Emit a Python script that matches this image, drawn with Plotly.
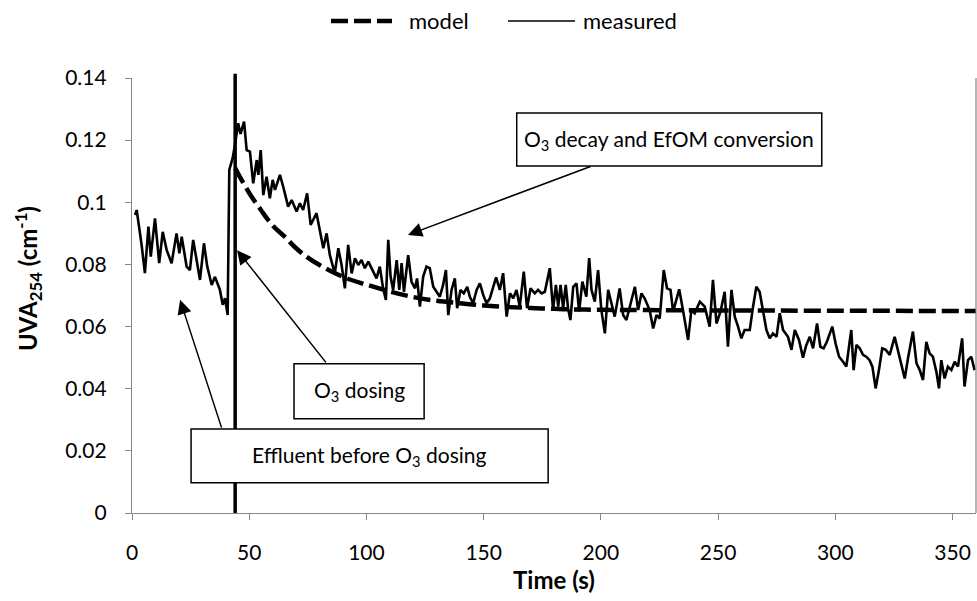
import plotly.graph_objects as go

# ---- data ----
time_measured = [1.3, 2.0, 4.1, 5.5, 7.0, 8.0, 9.8, 11.6, 13.1, 14.8, 16.9, 19.0, 20.2, 21.2, 23.3, 24.7,
                 26.1, 29.0, 30.7, 32.1, 34.0, 35.4, 37.5, 38.7, 39.7, 40.8, 41.5, 42.9, 43.8, 45.3, 46.3,
                 47.8, 48.9, 50.3, 51.7, 53.2, 53.9, 54.9, 56.0, 57.4, 58.8, 60.0, 61.0, 63.1, 64.5, 66.6,
                 68.1, 70.2, 71.6, 73.0, 74.7, 76.2, 78.7, 80.2, 81.6, 83.0, 84.4, 86.5, 88.0, 89.4, 90.8,
                 92.2, 93.7, 95.1, 96.5, 97.9, 99.3, 100.8, 102.9, 104.3, 105.7, 107.1, 108.3, 109.3, 110.3,
                 111.4, 112.9, 114.0, 115.0, 116.0, 117.8, 119.2, 120.7, 121.6, 122.8, 124.2, 125.6, 127.0,
                 128.5, 129.9, 131.3, 132.7, 133.9, 134.9, 136.3, 137.7, 138.7, 140.1, 141.5, 143.0, 144.1,
                 145.5, 147.0, 148.4, 149.8, 151.2, 152.6, 155.3, 156.9, 158.3, 159.8, 161.2, 162.6, 164.0,
                 165.4, 167.1, 168.5, 170.0, 171.8, 173.2, 174.7, 176.1, 178.2, 179.6, 180.8, 181.8, 182.8,
                 183.9, 185.0, 186.0, 187.0, 188.2, 189.6, 190.7, 192.1, 193.8, 195.0, 196.0, 197.4, 198.8,
                 200.2, 201.7, 203.1, 204.5, 205.9, 208.0, 209.5, 210.9, 212.3, 214.5, 215.9, 217.3, 218.7,
                 220.8, 222.3, 223.7, 225.1, 226.8, 228.2, 229.7, 230.8, 233.4, 235.0, 237.2, 238.6, 240.0,
                 242.2, 244.3, 246.4, 247.8, 249.3, 251.0, 252.8, 254.2, 255.7, 257.1, 258.5, 259.9, 261.3,
                 263.5, 264.9, 266.3, 267.7, 269.2, 270.6, 272.0, 273.4, 274.9, 276.3, 277.7, 279.8, 281.3,
                 282.7, 284.5, 286.2, 287.6, 289.1, 290.5, 292.2, 293.6, 295.0, 296.4, 298.7, 300.1, 301.6,
                 303.3, 304.7, 306.1, 306.8, 307.8, 309.0, 310.4, 311.8, 313.2, 314.6, 315.8, 317.2, 318.6,
                 320.0, 321.5, 323.2, 325.3, 326.7, 328.2, 329.6, 331.0, 333.1, 334.6, 336.0, 337.4, 338.8,
                 340.2, 341.6, 343.1, 344.2, 345.2, 346.6, 348.0, 349.5, 350.9, 352.3, 354.1, 355.1, 356.6,
                 358.0, 359.4]
uva_measured = [0.0959, 0.0975, 0.0863, 0.0772, 0.0922, 0.0825, 0.0948, 0.0804, 0.0905, 0.0846, 0.0804,
                0.0900, 0.0836, 0.0889, 0.0793, 0.0782, 0.0879, 0.0750, 0.0868, 0.0793, 0.0734, 0.0760,
                0.0718, 0.0670, 0.0691, 0.0637, 0.1104, 0.1141, 0.1180, 0.1254, 0.1220, 0.1260, 0.1168,
                0.1163, 0.1061, 0.1136, 0.1088, 0.1168, 0.1023, 0.1082, 0.1013, 0.1072, 0.1040, 0.1088,
                0.1050, 0.0986, 0.1007, 0.0970, 0.0997, 0.0975, 0.1029, 0.0927, 0.0965, 0.0911, 0.0852,
                0.0900, 0.0830, 0.0771, 0.0852, 0.0798, 0.0723, 0.0863, 0.0771, 0.0820, 0.0798, 0.0814,
                0.0788, 0.0809, 0.0777, 0.0755, 0.0793, 0.0723, 0.0686, 0.0879, 0.0761, 0.0718, 0.0814,
                0.0718, 0.0804, 0.0712, 0.0830, 0.0745, 0.0723, 0.0755, 0.0664, 0.0761, 0.0793, 0.0788,
                0.0728, 0.0712, 0.0696, 0.0734, 0.0782, 0.0637, 0.0718, 0.0755, 0.0659, 0.0718, 0.0707,
                0.0728, 0.0696, 0.0675, 0.0718, 0.0739, 0.0702, 0.0675, 0.0690, 0.0758, 0.0718, 0.0772,
                0.0632, 0.0707, 0.0691, 0.0718, 0.0664, 0.0777, 0.0659, 0.0723, 0.0707, 0.0718, 0.0707,
                0.0712, 0.0788, 0.0653, 0.0734, 0.0664, 0.0734, 0.0659, 0.0734, 0.0659, 0.0621, 0.0728,
                0.0739, 0.0648, 0.0745, 0.0696, 0.0820, 0.0718, 0.0680, 0.0782, 0.0653, 0.0578, 0.0718,
                0.0675, 0.0632, 0.0723, 0.0637, 0.0621, 0.0664, 0.0728, 0.0653, 0.0707, 0.0690, 0.0653,
                0.0594, 0.0637, 0.0626, 0.0782, 0.0723, 0.0718, 0.0648, 0.0720, 0.0653, 0.0557, 0.0653,
                0.0643, 0.0680, 0.0664, 0.0600, 0.0750, 0.0610, 0.0648, 0.0712, 0.0535, 0.0718, 0.0632,
                0.0600, 0.0562, 0.0589, 0.0589, 0.0664, 0.0728, 0.0712, 0.0643, 0.0589, 0.0562, 0.0578,
                0.0567, 0.0643, 0.0589, 0.0567, 0.0525, 0.0589, 0.0557, 0.0500, 0.0540, 0.0567, 0.0530,
                0.0610, 0.0535, 0.0530, 0.0551, 0.0600, 0.0546, 0.0503, 0.0487, 0.0471, 0.0551, 0.0589,
                0.0460, 0.0541, 0.0530, 0.0509, 0.0503, 0.0492, 0.0471, 0.0401, 0.0460, 0.0530, 0.0525,
                0.0509, 0.0567, 0.0525, 0.0482, 0.0433, 0.0498, 0.0584, 0.0482, 0.0460, 0.0428, 0.0551,
                0.0514, 0.0503, 0.0455, 0.0401, 0.0492, 0.0433, 0.0471, 0.0460, 0.0487, 0.0471, 0.0562,
                0.0407, 0.0492, 0.0503, 0.0460]

time_model = [44, 46, 50, 55, 60, 65, 70, 75, 80, 90, 100, 110, 120, 130, 140, 150, 160, 170, 180,
              190, 200, 220, 250, 300, 360]
uva_model = [0.111, 0.1082, 0.1030, 0.0975, 0.0925, 0.0890, 0.0852, 0.0822, 0.0798, 0.0760, 0.0735,
             0.0713, 0.0695, 0.0683, 0.0675, 0.0668, 0.0663, 0.0660, 0.0657, 0.0655, 0.0654, 0.0653,
             0.0652, 0.0651, 0.0650]

dosing_time = 44
x_ticks = [0, 50, 100, 150, 200, 250, 300, 350]
y_ticks = [0, 0.02, 0.04, 0.06, 0.08, 0.1, 0.12, 0.14]
y_ticktext = ["0", "0.02", "0.04", "0.06", "0.08", "0.1", "0.12", "0.14"]

FONT = "Lato"
FS = 21
TITLE_FS = 24
AXC = "#868686"
MODEL_DASH = "17px,6px"

# plot-area geometry helpers (pixels -> paper coords) for non-data decorations
L, R, T, B = 132, 976, 78, 513
def px(xp):
    return (xp - L) / (R - L)
def py(yp):
    return (B - yp) / (B - T)

fig = go.Figure()
fig.add_trace(go.Scatter(x=time_measured, y=uva_measured, mode="lines", name="measured",
                         line=dict(color="black", width=2.6), showlegend=False))
fig.add_trace(go.Scatter(x=time_model, y=uva_model, mode="lines", name="model",
                         line=dict(color="black", width=4.5, dash=MODEL_DASH, shape="spline"),
                         showlegend=False))

# vertical dosing line
fig.add_shape(type="line", xref="x", yref="paper", x0=dosing_time, x1=dosing_time, y0=0, y1=1.01,
              line=dict(color="black", width=3.5), layer="above")
# right border
fig.add_shape(type="line", xref="paper", yref="paper", x0=1, x1=1, y0=0, y1=1,
              line=dict(color=AXC, width=1.2), layer="above")

boxes = [
    (164.1, 294.2, 0.1117, 0.1287, "O<sub>3</sub> decay and EfOM conversion"),
    (69.1, 124.6, 0.0303, 0.0480, "O<sub>3</sub> dosing"),
    (25.2, 177.5, 0.0097, 0.0270, "Effluent before O<sub>3</sub> dosing"),
]
for x0, x1, y0, y1, txt in boxes:
    fig.add_shape(type="rect", xref="x", yref="y", x0=x0, x1=x1, y0=y0, y1=y1,
                  line=dict(color="black", width=1.5), fillcolor="white", layer="above")
    fig.add_annotation(x=(x0 + x1) / 2, y=(y0 + y1) / 2, xref="x", yref="y", text=txt,
                       showarrow=False, xanchor="center", yanchor="middle",
                       font=dict(family=FONT, size=FS, color="black"))

arrows = [
    (196.2, 0.1117, 117.7, 0.0895),
    (83.2, 0.0480, 44.8, 0.0846),
    (38.4, 0.0270, 20.5, 0.0686),
]
for tx, ty, hx, hy in arrows:
    fig.add_annotation(x=hx, y=hy, ax=tx, ay=ty, xref="x", yref="y", axref="x", ayref="y",
                       text="", showarrow=True, arrowhead=2, arrowsize=1.9, arrowwidth=1.5,
                       arrowcolor="black")

# axis titles
fig.add_annotation(xref="paper", yref="paper", x=px(28), y=py(279), xanchor="center",
                   yanchor="middle", text="<b>UVA<sub>254</sub> (cm<sup>-1</sup>)</b>",
                   textangle=-90, showarrow=False,
                   font=dict(family=FONT, size=TITLE_FS, color="black"))
fig.add_annotation(xref="paper", yref="paper", x=px(554), y=py(579), xanchor="center",
                   yanchor="middle", text="<b>Time (s)</b>", showarrow=False,
                   font=dict(family=FONT, size=TITLE_FS, color="black"))

# legend (drawn manually to match sample lengths)
fig.add_shape(type="line", xref="paper", yref="paper", x0=px(331), x1=px(392), y0=py(21), y1=py(21),
              line=dict(color="black", width=4.5, dash=MODEL_DASH))
fig.add_annotation(xref="paper", yref="paper", x=px(407), y=py(20), xanchor="left", yanchor="middle",
                   text="model", showarrow=False, font=dict(family=FONT, size=22, color="black"))
fig.add_shape(type="line", xref="paper", yref="paper", x0=px(508), x1=px(575), y0=py(21), y1=py(21),
              line=dict(color="black", width=1.6))
fig.add_annotation(xref="paper", yref="paper", x=px(581), y=py(20), xanchor="left", yanchor="middle",
                   text="measured", showarrow=False, font=dict(family=FONT, size=22, color="black"))

fig.update_xaxes(range=[0, 360], tickvals=x_ticks, showgrid=False, zeroline=False,
                 showline=True, linecolor=AXC, linewidth=1.2, ticks="outside", tickcolor=AXC,
                 ticklen=6, tickwidth=1.2, ticklabelstandoff=15,
                 tickfont=dict(family=FONT, size=FS, color="black"))
fig.update_yaxes(range=[0, 0.14], tickvals=y_ticks, ticktext=y_ticktext, showgrid=False,
                 zeroline=False, showline=True, linecolor=AXC, linewidth=1.2, ticks="outside",
                 tickcolor=AXC, ticklen=6, tickwidth=1.2, ticklabelstandoff=14,
                 tickfont=dict(family=FONT, size=FS, color="black"))

fig.update_layout(
    width=977, height=601,
    margin=dict(l=L, r=977 - R, t=T, b=601 - B),
    plot_bgcolor="white", paper_bgcolor="white",
    font=dict(family=FONT, size=FS, color="black"),
    showlegend=False,
)

fig.write_html("out.html")
